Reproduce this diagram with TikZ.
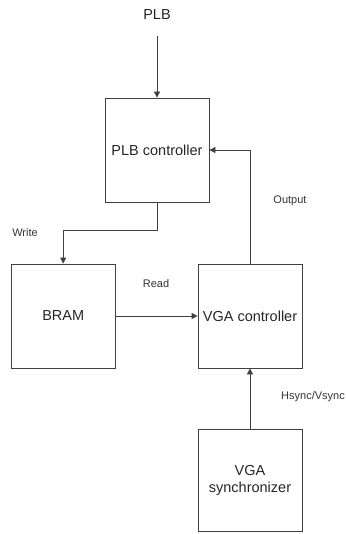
\documentclass[tikz,border=0pt]{standalone}
\usepackage{fontspec}
\setmainfont{Liberation Sans}
\usetikzlibrary{arrows.meta,positioning}

\begin{document}
\begin{tikzpicture}[
    x=1pt, y=1pt,
    node distance=62pt and 82pt,
    box/.style={draw=black!75, line width=0.8pt, align=center, minimum width=104pt, minimum height=104pt, inner sep=0pt, font=\fontsize{14.5}{17}\selectfont, text=black!85},
    lbl/.style={font=\fontsize{11}{13}\selectfont, text=black!80, inner sep=0pt},
    arrow/.style={-{Triangle[length=6pt, width=6pt]}, draw=black!75, line width=0.8pt}
]
\useasboundingbox (0,0) rectangle (345,-534);
\node[box] (plbctrl) at (157,-150) {PLB controller};
\node[box] (vgactrl) at (250,-316) {VGA controller};
\node[box, left=of vgactrl] (bram) {BRAM};
\node[box, below=61pt of vgactrl, minimum height=102pt] (vgasync) {VGA\\synchronizer};
\node[font=\fontsize{14.5}{17}\selectfont, text=black!85, minimum height=42pt, inner sep=0pt] (plb) at (157,-15) {PLB};
% labels
\node[lbl] (write) at (25,-233) {Write};
\node[lbl] (output) at (290,-201) {Output};
\node[lbl] (read) at (156,-284) {Read};
\node[lbl, anchor=east] (hvsync) at (345,-397) {Hsync/Vsync};
% connections
\draw[arrow] (plb) -- (plbctrl);
\draw[arrow] (plbctrl.south) -- ++(0,-28) -| (bram.north);
\draw[arrow] (bram) -- (vgactrl);
\draw[arrow] (vgasync) -- (vgactrl);
\draw[arrow] (vgactrl.north) |- (plbctrl.east);
\end{tikzpicture}
\end{document}
